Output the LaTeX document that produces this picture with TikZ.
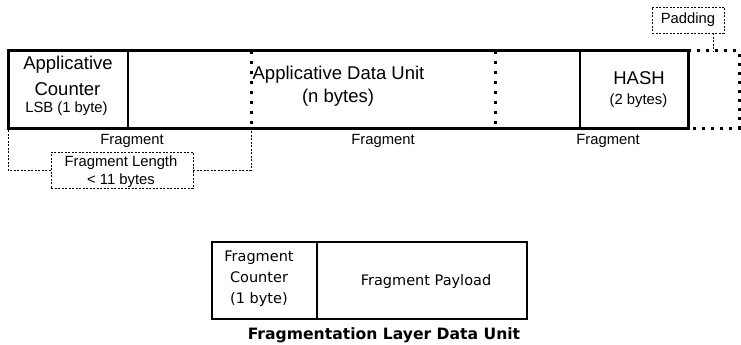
\documentclass[tikz,border=0pt]{standalone}
\usepackage{fontspec}
\setmainfont{Liberation Sans}
\newfontfamily\dvs{DejaVu Sans}
\begin{document}
\begin{tikzpicture}[x=1pt,y=-1pt,
  thickbox/.style={draw=black, line width=3pt},
  divider/.style={draw=black, line width=2.2pt},
  bigdots/.style={draw=black, line width=3pt, dash pattern=on 3pt off 7pt},
  paddots/.style={draw=black, line width=3pt, dash pattern=on 3pt off 6pt},
  thindash/.style={draw=black, line width=0.9pt, dash pattern=on 2pt off 1.5pt},
  big/.style={font=\fontsize{18.5}{22}\selectfont, inner sep=0pt},
  small/.style={font=\fontsize{14.8}{18}\selectfont, inner sep=0pt},
  dvtext/.style={font=\dvs\fontsize{14.5}{21}\selectfont, inner sep=0pt, align=center},
  area/.style={inner sep=0pt, outer sep=0pt}
]
\useasboundingbox (0,0) rectangle (741,345);

% top frame areas
\node[area, minimum width=680, minimum height=77] (frame) at (348,89.5) {};
\node[area, minimum width=51, minimum height=77] (pad) at (713.5,89.5) {};
\coordinate (d1t) at (128,51); \coordinate (d1b) at (128,128);
\coordinate (d2t) at (251,51); \coordinate (d2b) at (251,128);
\coordinate (d3t) at (495,51); \coordinate (d3b) at (495,128);
\coordinate (d4t) at (580,51); \coordinate (d4b) at (580,128);

% dotted fragment boundaries
\draw[bigdots] (d2t) -- (d2b);
\draw[bigdots] (d3t) -- (d3b);
% solid dividers
\draw[divider] (d1t) -- (d1b);
\draw[divider] (d4t) -- (d4b);
% padding dotted outline
\draw[paddots] (pad.north west) -- (pad.north east) -- (pad.south east) -- (pad.south west);
% main frame
\draw[thickbox] (frame.north west) rectangle (frame.south east);

% texts in frame
\node[big] (ac1) at (68,65) {Applicative};
\node[big] (ac2) at (67.5,89) {Counter};
\node[small] (ac3) at (66.5,109) {LSB (1 byte)};
\node[big] (adu1) at (338.5,74.5) {Applicative Data Unit};
\node[big] (adu2) at (338,98) {(n bytes)};
\node[big] (hash1) at (639,78.5) {HASH};
\node[small] (hash2) at (638.5,101) {(2 bytes)};

% padding label
\node[thindash, small, minimum width=72, minimum height=26, inner sep=0pt] (padlbl) at (688,20) {Padding};
\draw[thindash] (padlbl.south -| pad.north) -- (pad.north);

% fragment labels
\node[small] (fr1) at (132,141) {Fragment};
\node[small] (fr2) at (383,141) {Fragment};
\node[small] (fr3) at (608,141) {Fragment};

% fragment length bracket
\node[thindash, minimum width=142, minimum height=36, inner sep=0pt] (fl) at (122,170) {};
\node[small] (fl1) at (121,162.5) {Fragment Length};
\node[small] (fl2) at (121,181) {{<} 11 bytes};
\coordinate (bl) at (8,128);
\coordinate (br) at (251,128);
\draw[thindash] (fl.west) -| (bl);
\draw[thindash] (fl.east) -| (br);

% bottom data unit
\node[area, minimum width=105, minimum height=77] (fc) at (264.5,280.5) {};
\node[area, minimum width=210, minimum height=77] (fp) at (422,280.5) {};
\draw[divider] (fc.north east) -- (fc.south east);
\draw[thickbox, line width=2.6pt] (fc.north west) rectangle (fp.south east);
\node[dvtext] (fct) at (259,279) {Fragment\\Counter\\(1 byte)};
\node[dvtext] (fpt) at (426,281) {Fragment Payload};
\node[inner sep=0pt, font=\dvs\bfseries\fontsize{15.6}{18}\selectfont] (title) at (384,335) {Fragmentation Layer Data Unit};
\end{tikzpicture}
\end{document}
